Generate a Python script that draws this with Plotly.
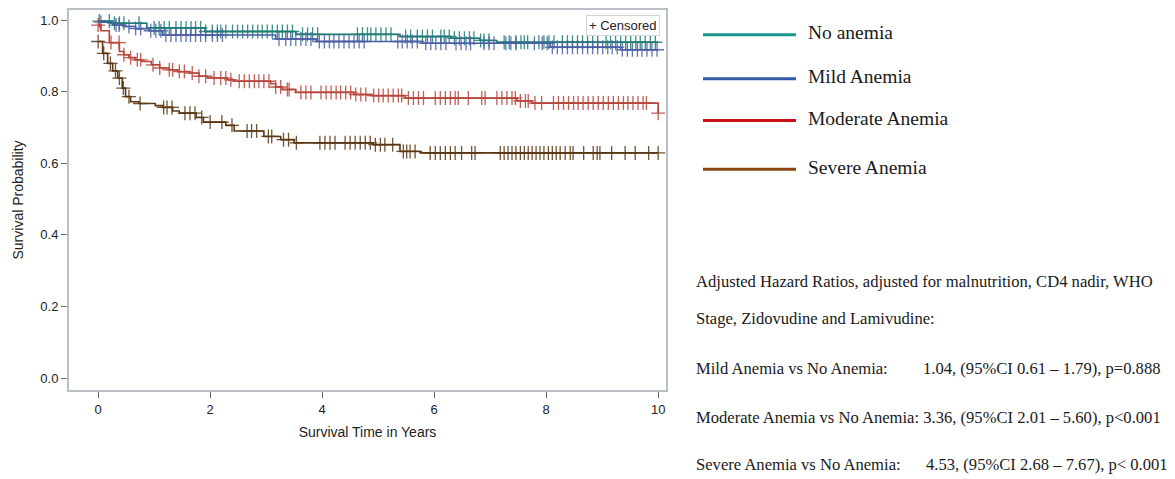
import plotly.graph_objects as go

# ---------------- data ----------------
series_names = ["No anemia", "Mild Anemia", "Moderate Anemia", "Severe Anemia"]

# event step times (years) and survival after each step
none_t = [0.0, 0.25, 0.87, 1.91, 3.53, 5.39, 6.30, 6.82, 7.12]
none_s = [0.997, 0.991, 0.978, 0.968, 0.960, 0.954, 0.949, 0.943, 0.938]
none_c = [0.02, 0.2, 0.29, 0.38, 0.46, 0.73, 1.0, 1.09, 1.18, 1.27, 1.39, 1.48, 1.57, 1.66,
          1.74, 1.83, 1.92, 2.04, 2.13, 2.19, 2.28, 2.40, 2.49, 2.58, 2.67, 2.76, 2.85, 2.93,
          3.02, 3.11, 3.20, 3.29, 3.38, 3.47, 3.65, 3.74, 3.83, 3.92, 4.63, 4.72, 4.81, 4.87,
          4.96, 5.05, 5.14, 5.23, 5.49, 5.58, 5.70, 5.79, 5.88, 5.97, 6.12, 6.18, 6.27, 6.36,
          6.45, 6.54, 6.63, 6.71, 6.83, 6.89, 6.98, 7.25, 7.34, 7.46, 7.55, 7.61, 7.67, 7.87,
          7.96, 8.05, 8.14, 8.29, 8.38, 8.47, 8.56, 8.65, 8.74, 8.83, 8.92, 9.07, 9.15, 9.24,
          9.33, 9.42, 9.51, 9.60, 9.68, 9.77, 9.86, 9.95]

mild_t = [0.0, 0.05, 0.26, 0.49, 0.67, 0.91, 1.15, 3.17, 3.89, 5.79, 8.07, 9.33]
mild_s = [0.998, 0.994, 0.986, 0.982, 0.976, 0.970, 0.958, 0.947, 0.940, 0.935, 0.924, 0.917]
mild_c = [0.05, 0.32, 0.375, 0.55, 0.67, 0.76, 0.94, 1.03, 1.12, 1.21, 1.30, 1.39, 1.48, 1.57,
          1.65, 1.74, 1.83, 1.92, 2.04, 2.13, 2.22, 3.23, 3.35, 3.44, 3.53, 3.62, 3.71, 3.80,
          3.95, 4.04, 4.13, 4.21, 4.30, 4.39, 4.48, 4.57, 4.66, 4.75, 5.35, 5.43, 5.52, 5.61,
          5.70, 5.85, 5.94, 6.03, 6.12, 6.21, 6.39, 6.48, 6.57, 6.65, 6.89, 6.98, 7.07, 7.28,
          7.37, 7.46, 7.79, 7.93, 8.02, 8.11, 8.20, 8.29, 8.38, 8.47, 8.56, 8.65, 8.74, 8.83,
          8.92, 9.01, 9.10, 9.18, 9.27, 9.36, 9.45, 9.54, 9.63, 9.71, 9.80, 9.89, 9.98]

mod_t = [0.0, 0.05, 0.20, 0.38, 0.46, 0.55, 0.66, 0.78, 0.95, 1.10, 1.27, 1.42, 1.63, 1.80,
         1.95, 2.31, 2.43, 3.08, 3.17, 3.29, 3.53, 4.57, 4.88, 5.48, 7.48, 7.74, 10.0]
mod_s = [0.986, 0.970, 0.937, 0.912, 0.903, 0.895, 0.889, 0.884, 0.875, 0.866, 0.861, 0.856,
         0.852, 0.843, 0.838, 0.833, 0.829, 0.822, 0.813, 0.806, 0.798, 0.792, 0.789, 0.782,
         0.774, 0.768, 0.740]
mod_c = [0.0, 0.23, 0.375, 0.46, 0.58, 0.70, 0.76, 0.98, 1.10, 1.27, 1.33, 1.45, 1.54, 1.68,
         1.80, 1.92, 2.07, 2.19, 2.28, 2.37, 2.52, 2.61, 2.70, 2.79, 2.87, 2.96, 3.05, 3.17,
         3.26, 3.38, 3.41, 3.62, 3.71, 3.80, 3.98, 4.07, 4.16, 4.25, 4.33, 4.42, 4.51, 4.60,
         4.69, 4.78, 4.92, 5.01, 5.09, 5.18, 5.27, 5.36, 5.42, 5.54, 5.63, 5.72, 5.81, 6.02,
         6.11, 6.20, 6.29, 6.375, 6.43, 6.61, 6.85, 6.91, 7.12, 7.21, 7.30, 7.39, 7.45, 7.54,
         7.63, 7.68, 7.80, 7.92, 8.13, 8.22, 8.31, 8.40, 8.49, 8.57, 8.66, 8.75, 8.84, 8.93,
         9.02, 9.11, 9.20, 9.29, 9.38, 9.46, 9.55, 9.64, 9.73, 9.79, 10.0]

sev_t = [0.0, 0.08, 0.17, 0.26, 0.35, 0.43, 0.49, 0.58, 0.73, 1.02, 1.15, 1.33, 1.45, 1.75,
         1.88, 2.28, 2.43, 2.96, 3.26, 3.50, 4.91, 5.39, 5.75]
sev_s = [0.940, 0.907, 0.879, 0.858, 0.838, 0.810, 0.786, 0.772, 0.767, 0.761, 0.756, 0.746,
         0.740, 0.728, 0.715, 0.706, 0.690, 0.675, 0.666, 0.657, 0.652, 0.633, 0.629]
sev_c = [0.0, 0.1, 0.22, 0.31, 0.38, 0.45, 0.55, 0.75, 1.17, 1.23, 1.32, 1.55, 1.64, 1.73,
         1.85, 2.0, 2.21, 2.39, 2.66, 2.74, 2.83, 3.04, 3.10, 3.31, 3.40, 3.54, 3.96, 4.05,
         4.14, 4.23, 4.41, 4.50, 4.59, 4.68, 4.77, 4.86, 4.95, 5.04, 5.12, 5.26, 5.45, 5.51,
         5.57, 5.66, 5.93, 6.02, 6.11, 6.20, 6.29, 6.375, 6.49, 6.67, 6.73, 7.18, 7.25, 7.32,
         7.39, 7.46, 7.54, 7.61, 7.68, 7.75, 7.82, 7.89, 7.96, 8.04, 8.11, 8.18, 8.25, 8.34,
         8.43, 8.48, 8.67, 8.84, 8.91, 8.96, 9.17, 9.41, 9.59, 9.83, 10.0]

end_time = 10.0
x_ticks = [0, 2, 4, 6, 8, 10]
y_ticks = [0.0, 0.2, 0.4, 0.6, 0.8, 1.0]

plot_colors = ["#1b7d72", "#4a5ea6", "#b8453a", "#5a3712"]
legend_colors = ["#1a968d", "#2f5ba8", "#c80f14", "#8b4513"]

hr_title = ["Adjusted Hazard Ratios, adjusted for malnutrition, CD4 nadir, WHO",
            "Stage, Zidovudine and Lamivudine:"]
hr_labels = ["Mild Anemia vs No Anemia:", "Moderate Anemia vs No Anemia:", "Severe Anemia vs No Anemia:"]
hr_values = ["1.04, (95%CI 0.61 \u2013 1.79), p=0.888",
             "3.36, (95%CI 2.01 \u2013 5.60), p<0.001",
             "4.53, (95%CI 2.68 \u2013 7.67), p< 0.001"]

# ---------------- figure ----------------
# the page body has an 8px margin, so the figure is drawn 8px smaller and positions
# below are given in window pixels and shifted by OFF
OFF = 8
W, H = 1175 - OFF, 479 - OFF
L, R, T, B = 69 - OFF, 666 - OFF, 8 - OFF, 390 - OFF


def px_x(px):
    return (px - OFF - L) / (R - L)


def px_y(py):
    return (B - (py - OFF)) / (B - T)


def surv_at(times, surv, t):
    val = surv[0]
    for ti, si in zip(times, surv):
        if ti <= t + 1e-9:
            val = si
    return val


fig = go.Figure()
all_series = [(none_t, none_s, none_c), (mild_t, mild_s, mild_c),
              (mod_t, mod_s, mod_c), (sev_t, sev_s, sev_c)]

for (tt, ss, cc), col, name in zip(all_series, plot_colors, series_names):
    xs = list(tt)
    ys = list(ss)
    if xs[-1] < end_time:
        xs.append(end_time)
        ys.append(ss[-1])
    fig.add_trace(go.Scatter(x=xs, y=ys, mode="lines", line=dict(color=col, width=1.6, shape="hv"),
                             name=name, showlegend=False, hoverinfo="skip"))
    fig.add_trace(go.Scatter(x=cc, y=[surv_at(tt, ss, c) for c in cc], mode="markers",
                             marker=dict(symbol="cross-thin", size=10, line=dict(color=col, width=1.3)),
                             opacity=0.85, showlegend=False, hoverinfo="skip"))

axis_font = dict(family="Liberation Sans, Arial", size=13, color="#222222")
title_font = dict(family="Liberation Sans, Arial", size=14, color="#222222")
fig.update_xaxes(range=[-0.52, 10.14], tickvals=x_ticks, ticktext=[str(v) for v in x_ticks],
                 ticks="outside", ticklen=6, tickcolor="#6b6b6b", showline=True, linecolor="#b9c0c8",
                 linewidth=2, mirror=True, showgrid=False, zeroline=False, tickfont=axis_font,
                 title=dict(text="Survival Time in Years", font=title_font, standoff=12))
fig.update_yaxes(range=[-0.033, 1.028], tickvals=y_ticks, ticktext=["%.1f" % v for v in y_ticks],
                 ticks="outside", ticklen=6, tickcolor="#6b6b6b", showline=True, linecolor="#b9c0c8",
                 linewidth=2, mirror=True, showgrid=False, zeroline=False, tickfont=axis_font,
                 title=dict(text="Survival Probability", font=title_font, standoff=13))

shapes = []
annotations = []
# "+ Censored" box
annotations.append(dict(text="+ Censored", xref="paper", yref="paper", x=px_x(660), y=px_y(13),
                        xanchor="right", yanchor="top", showarrow=False,
                        font=dict(family="Liberation Sans, Arial", size=13, color="#222222"),
                        bordercolor="#d6d6d6", borderwidth=1, borderpad=2, bgcolor="white"))

# right-hand legend
leg_y = [33, 77, 119, 168]
for name, col, ly in zip(series_names, legend_colors, leg_y):
    shapes.append(dict(type="line", xref="paper", yref="paper", x0=px_x(703), x1=px_x(796),
                       y0=px_y(ly), y1=px_y(ly), line=dict(color=col, width=3)))
    annotations.append(dict(text=name, xref="paper", yref="paper", x=px_x(806), y=px_y(ly - 2),
                            xanchor="left", yanchor="middle", showarrow=False,
                            font=dict(family="Liberation Serif, serif", size=19.5, color="#1a1a1a")))

serif = dict(family="Liberation Serif, serif", size=16.6, color="#1a1a1a")
for txt, ly in zip(hr_title, [281, 318]):
    annotations.append(dict(text=txt, xref="paper", yref="paper", x=px_x(694), y=px_y(ly),
                            xanchor="left", yanchor="middle", showarrow=False, font=serif))
for lab, val, ly, vx in zip(hr_labels, hr_values, [368, 418, 465], [921, None, 924]):
    if vx is None:
        annotations.append(dict(text=lab + " " + val, xref="paper", yref="paper", x=px_x(694), y=px_y(ly),
                                xanchor="left", yanchor="middle", showarrow=False, font=serif))
    else:
        annotations.append(dict(text=lab, xref="paper", yref="paper", x=px_x(694), y=px_y(ly),
                                xanchor="left", yanchor="middle", showarrow=False, font=serif))
        annotations.append(dict(text=val, xref="paper", yref="paper", x=px_x(vx), y=px_y(ly),
                                xanchor="left", yanchor="middle", showarrow=False, font=serif))

fig.update_layout(width=W, height=H, margin=dict(l=L, r=W - R, t=T, b=H - B),
                  plot_bgcolor="white", paper_bgcolor="white", showlegend=False,
                  shapes=shapes, annotations=annotations)

fig.write_html("out.html")
